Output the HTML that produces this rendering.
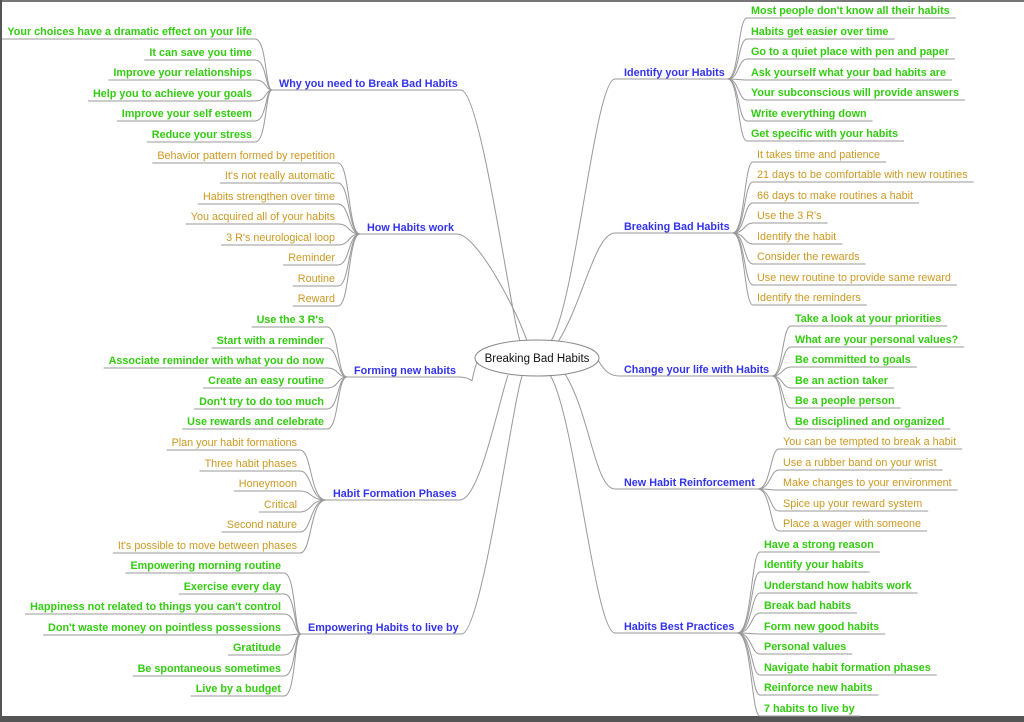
<!DOCTYPE html>
<html><head><meta charset="utf-8"><style>
html,body{margin:0;padding:0;background:#fff;width:1024px;height:722px;overflow:hidden}
svg{display:block}
text{font-family:"Liberation Sans",Arial,sans-serif;font-size:10.8px}
.g{fill:#33cc11;font-weight:bold}
.o{fill:#cc9922}
.b{fill:#3333ee;font-weight:bold}
</style></head><body>
<svg id="s" width="1024" height="722" xmlns="http://www.w3.org/2000/svg">
<rect x="0" y="0" width="1024" height="722" fill="#fff"/>
<rect x="0" y="0" width="1024" height="2" fill="#777"/>
<rect x="0" y="0" width="2" height="722" fill="#555"/>
<rect x="0" y="716" width="1024" height="6" fill="#555"/>
<g id="lines" fill="none" stroke="#999" stroke-width="1"></g>
<g id="txt"></g>
<ellipse cx="537" cy="358" rx="62" ry="18" fill="#fff" stroke="#888"/>
<text x="537" y="362" text-anchor="middle" style="font-size:11.5px" fill="#111">Breaking Bad Habits</text>
</svg>
<script>
var NS="http://www.w3.org/2000/svg";
var L=document.getElementById('lines'),T=document.getElementById('txt');
function P(d){var p=document.createElementNS(NS,'path');p.setAttribute('d',d);L.appendChild(p);}
function TX(x,y,s,c,anchor){var t=document.createElementNS(NS,'text');t.setAttribute('x',x);t.setAttribute('y',y);t.setAttribute('class',c);if(anchor)t.setAttribute('text-anchor',anchor);t.textContent=s;T.appendChild(t);var w;try{w=t.getComputedTextLength();}catch(e){w=s.length*5.8;}if(!w)w=s.length*5.8;return w;}
var left=[
 {label:"Why you need to Break Bad Habits",lx:279,ly:83,ux:270,uy:90,ex:520,ey:341,leafEnd:255,c:"g",ys:[31,52,72,93,113,134],full0:true,
  items:["Your choices have a dramatic effect on your life","It can save you time","Improve your relationships","Help you to achieve your goals","Improve your self esteem","Reduce your stress"]},
 {label:"How Habits work",lx:367,ly:227,ux:358,uy:234,ex:527,ey:341,leafEnd:338,c:"o",ys:[155,175,196,216,237,257,278,298],
  items:["Behavior pattern formed by repetition","It's not really automatic","Habits strengthen over time","You acquired all of your habits","3 R's neurological loop","Reminder","Routine","Reward"]},
 {label:"Forming new habits",lx:354,ly:370,ux:345,uy:377,ex:477,ey:362,leafEnd:327,c:"g",ys:[319,340,360,380,401,421],
  items:["Use the 3 R's","Start with a reminder","Associate reminder with what you do now","Create an easy routine","Don't try to do too much","Use rewards and celebrate"]},
 {label:"Habit Formation Phases",lx:333,ly:493,ux:324,uy:500,ex:508,ey:375,leafEnd:300,c:"o",ys:[442,463,483,504,524,545],
  items:["Plan your habit formations","Three habit phases","Honeymoon","Critical","Second nature","It's possible to move between phases"]},
 {label:"Empowering Habits to live by",lx:308,ly:627,ux:299,uy:634,ex:522,ey:376,leafEnd:284,c:"g",ys:[565,586,606,627,647,668,688],
  items:["Empowering morning routine","Exercise every day","Happiness not related to things you can't control","Don't waste money on pointless possessions","Gratitude","Be spontaneous sometimes","Live by a budget"]}
];
var right=[
 {label:"Identify your Habits",lx:624,ly:72,uy:79,ux0:615,ex:551,ey:341,sp:741,c:"g",ys:[10,31,51,72,92,113,133],
  items:["Most people don't know all their habits","Habits get easier over time","Go to a quiet place with pen and paper","Ask yourself what your bad habits are","Your subconscious will provide answers","Write everything down","Get specific with your habits"]},
 {label:"Breaking Bad Habits",lx:624,ly:226,uy:233,ux0:615,ex:558,ey:342,sp:747,c:"o",ys:[154,174,195,215,236,256,277,297],
  items:["It takes time and patience","21 days to be comfortable with new routines","66 days to make routines a habit","Use the 3 R's","Identify the habit","Consider the rewards","Use new routine to provide same reward","Identify the reminders"]},
 {label:"Change your life with Habits",lx:624,ly:369,uy:376,ux0:620,ex:598,ey:360,sp:785,c:"g",ys:[318,339,359,380,400,421],straight:true,
  items:["Take a look at your priorities","What are your personal values?","Be committed to goals","Be an action taker","Be a people person","Be disciplined and organized"]},
 {label:"New Habit Reinforcement",lx:624,ly:482,uy:489,ux0:615,ex:565,ey:374,sp:773,c:"o",ys:[441,462,482,503,523],
  items:["You can be tempted to break a habit","Use a rubber band on your wrist","Make changes to your environment","Spice up your reward system","Place a wager with someone"]},
 {label:"Habits Best Practices",lx:624,ly:626,uy:633,ux0:615,ex:550,ey:375,sp:754,c:"g",ys:[544,564,585,605,626,646,667,687,708],
  items:["Have a strong reason","Identify your habits","Understand how habits work","Break bad habits","Form new good habits","Personal values","Navigate habit formation phases","Reinforce new habits","7 habits to live by"]}
];
left.forEach(function(b){
  var w=TX(b.lx,b.ly+4,b.label,"b");
  var bx=b.lx+w+3;
  P("M"+b.ux+","+b.uy+"H"+bx+"C"+(bx+20)+","+b.uy+" "+(b.ex-10)+","+(b.ey+(b.ey<358?-30:30))+" "+b.ex+","+b.ey);
  b.items.forEach(function(s,i){
    var y=b.ys[i];var tw=TX(b.leafEnd-3,y+4,s,b.c,"end");
    var uy=y+8;var x0=(i==0&&b.full0)?2:b.leafEnd-tw-8;
    P("M"+x0+","+uy+"H"+b.leafEnd+"C"+(b.leafEnd+12)+","+uy+" "+(b.leafEnd+10)+","+b.uy+" "+(b.ux+2)+","+b.uy);
  });
});
right.forEach(function(b){
  var w=TX(b.lx,b.ly+4,b.label,"b");
  var bx=b.lx+w+3;
  if(b.straight){
    P("M"+b.ex+","+b.ey+"C"+(b.ex+8)+","+(b.ey+14)+" "+(b.ux0-8)+","+b.uy+" "+b.ux0+","+b.uy+"H"+bx);
  } else {
    P("M"+b.ex+","+b.ey+"C"+(b.ex+25)+","+(b.ey+(b.ey<358?-40:40))+" "+(b.ux0-20)+","+b.uy+" "+b.ux0+","+b.uy+"H"+bx);
  }
  var s0=b.sp;
  b.items.forEach(function(s,i){
    var y=b.ys[i];var tx=s0+10;var tw=TX(tx,y+4,s,b.c);
    var uy=y+8;
    P("M"+bx+","+b.uy+"C"+(s0-2)+","+b.uy+" "+(s0-3)+","+uy+" "+(s0+6)+","+uy+"H"+(tx+tw+6));
  });
});
</script>
</body></html>
